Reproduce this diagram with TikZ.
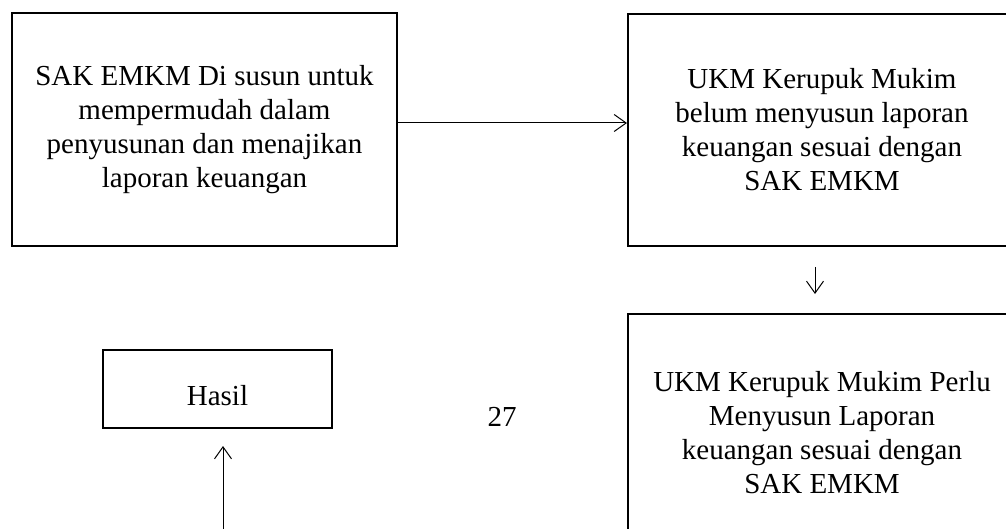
\documentclass[tikz,border=0pt]{standalone}
\usepackage{fontspec}
\setmainfont{Liberation Serif}
\usetikzlibrary{arrows.meta}
\begin{document}
\begin{tikzpicture}[x=1pt,y=-1pt,
  boxnode/.style={draw, line width=2pt, inner sep=0pt, align=center,
    font=\fontsize{29pt}{34pt}\selectfont},
  conn/.style={line width=1pt, -{Straight Barb[length=12pt,width=17pt,line width=1pt]}}]
\useasboundingbox (0,0) rectangle (1006,529);
\node[boxnode, minimum width=385pt, minimum height=233pt] (b1) at (204.5,129.5)
  {SAK EMKM Di susun untuk\\mempermudah dalam\\penyusunan dan menajikan\\laporan keuangan};
\node[boxnode, minimum width=388pt, minimum height=232pt] (b2) at (822,130)
  {UKM Kerupuk Mukim\\belum menyusun laporan\\keuangan sesuai dengan\\SAK EMKM};
\node[boxnode, minimum width=388pt, minimum height=238pt] (b3) at (822,433)
  {UKM Kerupuk Mukim Perlu\\Menyusun Laporan\\keuangan sesuai dengan\\SAK EMKM};
\node[boxnode, minimum width=229pt, minimum height=78pt] (hasil) at (217.5,389)
  {\raisebox{-7pt}[\height][\depth]{Hasil}};
\node[font=\fontsize{29pt}{34pt}\selectfont, inner sep=0pt] (page) at (502,417) {27};
\coordinate (upstart) at (223,530);
\draw[conn] ([yshift=6.5pt]b1.east) -- ([yshift=7pt]b2.west);
\draw[conn] ([xshift=-7pt,yshift=-20pt]b2.south) -- ([xshift=-7pt,yshift=19pt]b3.north);
\draw[conn] (upstart) -- ([xshift=5.5pt,yshift=-17pt]hasil.south);
\end{tikzpicture}
\end{document}
